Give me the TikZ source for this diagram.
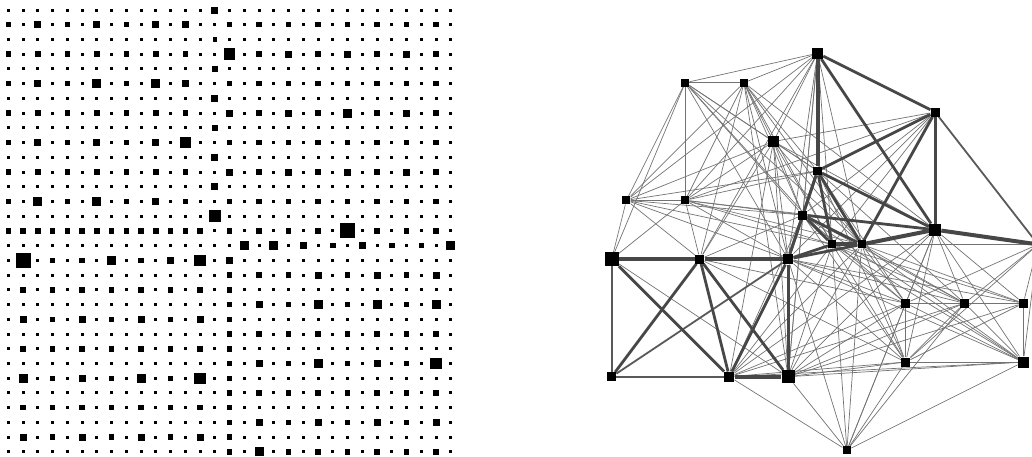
\documentclass[tikz,border=0pt]{standalone}
\usepackage{tikz}
\usetikzlibrary{backgrounds}

\begin{document}
\begin{tikzpicture}[x=1pt, y=-1pt,
  vtx/.style={rectangle, fill=black, inner sep=0pt, minimum size=#1},
  vtx/.default=9pt,
  lightedge/.style={line width=0.7pt, black!55},
  midedge/.style={line width=1.8pt, black!65},
  heavyedge/.style={line width=2.8pt, black!72},
  boldedge/.style={line width=4pt, black!72}
]
\useasboundingbox (0,0) rectangle (1032,456);

% weight matrix, one digit per cell (0 = smallest square)
\foreach \cells [count=\ri from 0] in {%
{0,0,0,0,0,0,0,0,0,0,0,0,0,0,3,0,0,0,0,0,0,0,0,0,0,0,0,0,0,0,0},%
{2,0,3,0,2,0,3,0,2,0,3,0,3,0,0,2,0,2,0,2,0,2,0,2,0,2,0,2,0,2,0},%
{0,0,0,0,0,0,0,0,0,0,0,0,0,0,1,0,0,0,0,0,0,0,0,0,0,0,0,0,0,0,0},%
{2,0,2,0,2,0,2,0,2,0,2,0,2,0,0,5,0,2,0,3,0,2,0,3,0,2,0,3,0,2,0},%
{0,0,0,0,0,0,0,0,0,0,0,0,0,0,2,0,0,0,0,0,0,0,0,0,0,0,0,0,0,0,0},%
{2,0,3,0,2,0,4,0,2,0,4,0,3,0,0,2,0,2,0,2,0,2,0,2,0,2,0,2,0,2,0},%
{0,0,0,0,0,0,0,0,0,0,0,0,0,0,3,0,0,0,0,0,0,0,0,0,0,0,0,0,0,0,0},%
{2,0,2,0,2,0,2,0,2,0,2,0,2,0,0,3,0,2,0,3,0,2,0,4,0,2,0,3,0,2,0},%
{0,0,0,0,0,0,0,0,0,0,0,0,0,0,2,0,0,0,0,0,0,0,0,0,0,0,0,0,0,0,0},%
{2,0,3,0,2,0,3,0,2,0,3,0,5,0,0,2,0,2,0,2,0,2,0,2,0,2,0,2,0,2,0},%
{0,0,0,0,0,0,0,0,0,0,0,0,0,0,3,0,0,0,0,0,0,0,0,0,0,0,0,0,0,0,0},%
{2,0,2,0,2,0,2,0,2,0,2,0,2,0,0,3,0,2,0,3,0,2,0,3,0,2,0,3,0,2,0},%
{0,0,0,0,0,0,0,0,0,0,0,0,0,0,3,0,0,0,0,0,0,0,0,0,0,0,0,0,0,0,0},%
{2,0,4,0,2,0,4,0,2,0,3,0,2,0,0,2,0,2,0,2,0,2,0,2,0,2,0,2,0,2,0},%
{0,0,0,0,0,0,0,0,0,0,0,0,0,0,5,0,0,0,0,0,0,0,0,0,0,0,0,0,0,0,0},%
{2,2,2,2,2,2,2,2,2,2,2,2,2,2,0,2,0,2,0,2,0,2,0,6,0,2,0,2,0,2,0},%
{0,0,0,0,0,0,0,0,0,0,0,0,0,0,0,0,4,0,4,0,3,0,2,0,3,0,2,0,2,0,4},%
{0,6,0,2,0,2,0,4,0,2,0,3,0,5,0,3,0,0,0,0,0,0,0,0,0,0,0,0,0,0,0},%
{0,0,0,0,0,0,0,0,0,0,0,0,0,0,0,2,0,2,0,2,0,3,0,2,0,3,0,2,0,3,0},%
{0,2,0,2,0,2,0,2,0,2,0,2,0,2,0,2,0,0,0,0,0,0,0,0,0,0,0,0,0,0,0},%
{0,0,0,0,0,0,0,0,0,0,0,0,0,0,0,2,0,3,0,2,0,4,0,2,0,4,0,2,0,4,0},%
{0,3,0,2,0,3,0,2,0,3,0,2,0,3,0,2,0,0,0,0,0,0,0,0,0,0,0,0,0,0,0},%
{0,0,0,0,0,0,0,0,0,0,0,0,0,0,0,2,0,2,0,2,0,2,0,2,0,2,0,2,0,2,0},%
{0,2,0,2,0,2,0,2,0,2,0,2,0,2,0,2,0,0,0,0,0,0,0,0,0,0,0,0,0,0,0},%
{0,0,0,0,0,0,0,0,0,0,0,0,0,0,0,2,0,3,0,2,0,4,0,2,0,3,0,2,0,5,0},%
{0,4,0,2,0,3,0,2,0,4,0,2,0,5,0,2,0,0,0,0,0,0,0,0,0,0,0,0,0,0,0},%
{0,0,0,0,0,0,0,0,0,0,0,0,0,0,0,2,0,2,0,2,0,2,0,2,0,2,0,2,0,2,0},%
{0,2,0,2,0,2,0,2,0,2,0,2,0,2,0,2,0,0,0,0,0,0,0,0,0,0,0,0,0,0,0},%
{0,0,0,0,0,0,0,0,0,0,0,0,0,0,0,2,0,3,0,2,0,3,0,2,0,3,0,2,0,3,0},%
{0,3,0,2,0,3,0,2,0,3,0,2,0,3,0,2,0,0,0,0,0,0,0,0,0,0,0,0,0,0,0},%
{0,0,0,0,0,0,0,0,0,0,0,0,0,0,0,2,0,4,0,2,0,2,0,2,0,2,0,2,0,2,0}%
}{%
  \foreach \s [count=\ci from 0] in \cells {%
    \edef\w{\ifcase\s\space 3\or 4.5\or 5.5\or 7\or 9\or 11.5\or 15\fi}%
    \fill ({8.3+14.75*\ci-\w/2},{10+14.73*\ri-\w/2}) rectangle ++(\w,\w);
  }%
}

% network
\begin{scope}[shift={(611.7,53.3)}, x=14.7pt, y=-14.7pt]
  \node[vtx=11pt] (v1) at (14,0) {};
  \node[vtx=8pt] (v2) at (5,2) {};
  \node[vtx=8pt] (v3) at (9,2) {};
  \node[vtx=9pt] (v4) at (22,4) {};
  \node[vtx=10.5pt] (v5) at (11,6) {};
  \node[vtx=8.5pt] (v6) at (14,8) {};
  \node[vtx=8pt] (v7) at (1,10) {};
  \node[vtx=8pt] (v8) at (5,10) {};
  \node[vtx=9pt] (v9) at (13,11) {};
  \node[vtx=8pt] (v10) at (15,13) {};
  \node[vtx=8pt] (v11) at (17,13) {};
  \node[vtx=12pt] (v12) at (22,12) {};
  \node[vtx=9pt] (v13) at (29,13) {};
  \node[vtx=14pt] (v14) at (0,14) {};
  \node[vtx=9pt] (v15) at (6,14) {};
  \node[vtx=10.5pt] (v16) at (12,14) {};
  \node[vtx=9pt] (v17) at (20,17) {};
  \node[vtx=9pt] (v18) at (24,17) {};
  \node[vtx=9pt] (v19) at (28,17) {};
  \node[vtx=9pt] (v20) at (20,21) {};
  \node[vtx=11pt] (v21) at (28,21) {};
  \node[vtx=9pt] (v22) at (0,22) {};
  \node[vtx=10pt] (v23) at (8,22) {};
  \node[vtx=13pt] (v24) at (12,22) {};
  \node[vtx=8.5pt] (v25) at (16,27) {};
\end{scope}

\begin{scope}[on background layer]
  \foreach \a/\b in {2/3, 2/7, 2/8, 2/5, 3/7, 3/8, 3/5, 5/7, 5/8, 7/8,
    1/2, 1/3, 1/5, 1/7, 1/8,
    2/6, 2/9, 2/10, 2/16, 2/11, 3/6, 3/9, 3/10, 3/11, 3/16, 3/12,
    5/6, 5/9, 5/10, 5/11, 5/12, 5/16, 5/4, 7/6, 7/9, 7/16, 7/10,
    8/6, 8/9, 8/10, 8/11, 8/16, 8/12, 8/4,
    7/14, 8/14, 2/14, 5/15, 8/15, 7/15, 3/15, 5/24, 3/24, 5/23,
    1/9, 1/10, 1/11, 1/16, 1/15, 1/24, 4/9, 4/10, 4/16,
    17/18, 18/19, 20/21, 17/20, 19/21, 17/21, 18/20, 19/20, 18/21,
    25/17, 25/18, 25/20, 25/21,
    16/17, 16/18, 16/19, 16/20, 16/21, 10/17, 10/18, 10/19, 10/20, 10/21,
    11/17, 11/18, 11/19, 11/20, 11/21, 12/17, 12/18, 12/19, 12/20, 12/21,
    9/17, 9/18, 9/20, 9/21, 6/17, 6/18, 6/20,
    13/17, 13/18, 13/19, 13/20, 13/21, 13/11,
    10/25, 11/25, 16/25, 12/25,
    24/17, 24/18, 24/19, 24/20, 24/21, 24/25, 23/17, 23/18, 23/20, 23/21, 23/25,
    24/10, 24/11, 24/12, 24/9, 23/10, 23/11, 23/12, 23/9,
    14/24, 15/17, 15/20, 15/9}
    \draw[lightedge] (v\a) -- (v\b);
  \foreach \a/\b in {4/13, 16/22, 14/22, 22/23}
    \draw[midedge] (v\a) -- (v\b);
  \foreach \a/\b in {1/4, 1/12, 4/12, 4/6, 4/11, 6/12, 6/9, 6/10, 6/11, 6/16,
    9/12, 9/10, 9/11, 9/16, 16/10, 16/11, 16/24, 16/23, 15/22, 15/23, 15/24, 14/23}
    \draw[heavyedge] (v\a) -- (v\b);
  \foreach \a/\b in {1/6, 14/15, 15/16, 23/24, 11/12, 10/11, 12/13}
    \draw[boldedge] (v\a) -- (v\b);
\end{scope}
\end{tikzpicture}
\end{document}
